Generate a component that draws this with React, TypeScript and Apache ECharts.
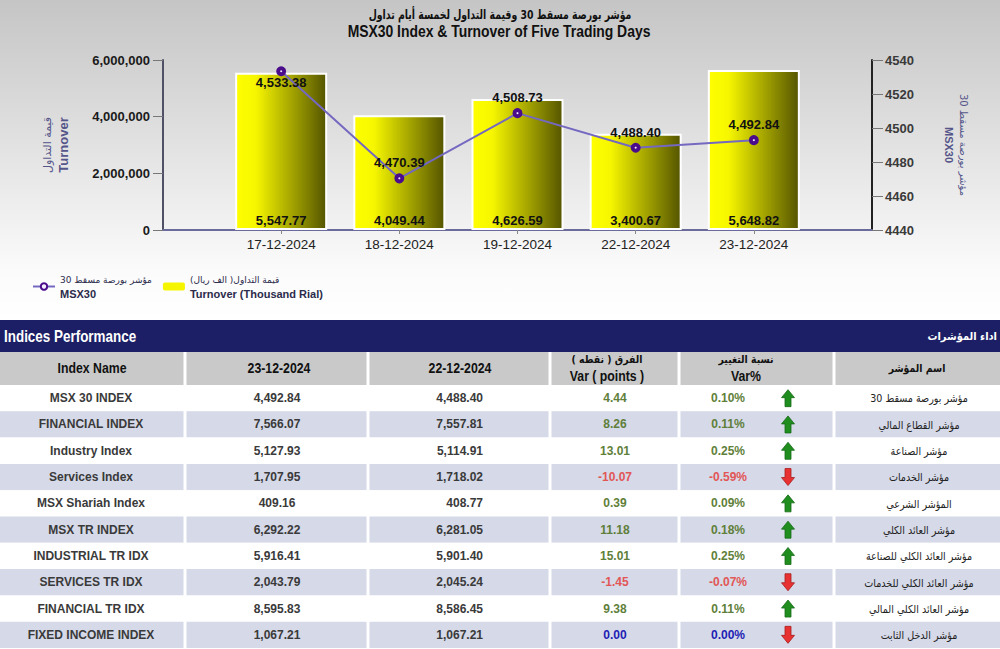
import React, { useEffect, useRef } from 'react';
import * as echarts from 'echarts';

// ---------- Chart data ----------
const titleAr = 'مؤشر بورصة مسقط 30 وقيمة التداول لخمسة أيام تداول';
const titleEn = 'MSX30 Index & Turnover of Five Trading Days';
const dates = ['17-12-2024', '18-12-2024', '19-12-2024', '22-12-2024', '23-12-2024'];
const turnover = [5547.77, 4049.44, 4626.59, 3400.67, 5648.82]; // shown as labels, axis in x1000
const msx30 = [4533.38, 4470.39, 4508.73, 4488.4, 4492.84];
const turnoverNameAr = 'قيمة التداول( الف ريال)';
const turnoverNameEn = 'Turnover (Thousand Rial)';
const msxNameAr = 'مؤشر بورصة مسقط 30';
const msxNameEn = 'MSX30';
const leftAxisNameAr = 'قيمة التداول';
const leftAxisNameEn = 'Turnover';

// ---------- Table data ----------
const bandTitleEn = 'Indices Performance';
const bandTitleAr = 'اداء المؤشرات';
const tableDates = ['23-12-2024', '22-12-2024'];
const headerIndexName = 'Index Name';
const headerVarPtsAr = 'الفرق ( نقطه )';
const headerVarPtsEn = 'Var ( points )';
const headerVarPctAr = 'نسبة التغيير';
const headerVarPctEn = 'Var%';
const headerNameAr = 'اسم المؤشر';
const indexNamesEn = [
  'MSX 30 INDEX', 'FINANCIAL INDEX', 'Industry Index', 'Services Index', 'MSX Shariah Index',
  'MSX TR INDEX', 'INDUSTRIAL TR IDX', 'SERVICES TR IDX', 'FINANCIAL TR IDX', 'FIXED INCOME INDEX',
];
const indexNamesAr = [
  'مؤشر بورصة مسقط 30', 'مؤشر القطاع المالي', 'مؤشر الصناعة', 'مؤشر الخدمات', 'المؤشر الشرعي',
  'مؤشر العائد الكلي', 'مؤشر العائد الكلي للصناعة', 'مؤشر العائد الكلي للخدمات', 'مؤشر العائد الكلي المالي', 'مؤشر الدخل الثابت',
];
const closeCurrent = [4492.84, 7566.07, 5127.93, 1707.95, 409.16, 6292.22, 5916.41, 2043.79, 8595.83, 1067.21];
const closePrevious = [4488.4, 7557.81, 5114.91, 1718.02, 408.77, 6281.05, 5901.4, 2045.24, 8586.45, 1067.21];
const varPoints = [4.44, 8.26, 13.01, -10.07, 0.39, 11.18, 15.01, -1.45, 9.38, 0.0];
const varPercent = [0.1, 0.11, 0.25, -0.59, 0.09, 0.18, 0.25, -0.07, 0.11, 0.0];

const fmt2 = (v: number) => v.toLocaleString('en-US', { minimumFractionDigits: 2, maximumFractionDigits: 2 });
const rtl = (s: string) => '\u200F' + s + '\u200F';

const ARIAL = 'Liberation Sans';
const ARABIC = 'DejaVu Sans';

function txt(x: number, y: number, text: string, opts: any = {}) {
  const align = opts.align || 'center';
  return {
    type: 'text',
    x,
    y,
    scaleX: opts.scaleX || 1,
    silent: true,
    z: 5,
    style: {
      text,
      fill: opts.fill || '#333',
      fontSize: opts.size || 12,
      fontWeight: opts.weight || 'bold',
      fontFamily: opts.family || ARIAL,
      textAlign: align,
      align,
      textVerticalAlign: 'middle',
      verticalAlign: 'middle',
    },
  };
}

function arrow(cx: number, cy: number, up: boolean) {
  const s = up ? 1 : -1;
  const pts = [[0, -8.5], [6.5, -0.5], [3, -0.5], [3, 8.5], [-3, 8.5], [-3, -0.5], [-6.5, -0.5]].map(
    ([x, y]) => [cx + x, cy + s * y]
  );
  return {
    type: 'polygon',
    silent: true,
    z: 5,
    shape: { points: pts },
    style: up
      ? { fill: '#1f8e1f', stroke: '#166a16', lineWidth: 0.8 }
      : { fill: '#e83232', stroke: '#a81c1c', lineWidth: 0.8 },
  };
}

function buildGraphics() {
  const g: any[] = [];
  // chart background gradient
  g.push({
    type: 'rect',
    silent: true,
    z: -10,
    shape: { x: 0, y: 0, width: 1000, height: 320 },
    style: {
      fill: {
        type: 'linear', x: 0, y: 0, x2: 0, y2: 1,
        colorStops: [
          { offset: 0, color: '#c5c5c5' },
          { offset: 0.85, color: '#fbfbfb' },
          { offset: 1, color: '#ffffff' },
        ],
      },
    },
  });
  // titles
  g.push(txt(500, 14, rtl(titleAr), { fill: '#111', size: 13, family: ARABIC, scaleX: 0.72 }));
  g.push(txt(499, 31, titleEn, { fill: '#111', size: 16, scaleX: 0.87 }));

  // navy band
  const bandTop = 320, bandH = 32;
  g.push({ type: 'rect', silent: true, z: 1, shape: { x: 0, y: bandTop, width: 1000, height: bandH }, style: { fill: '#1c1f66' } });
  g.push(txt(4, bandTop + bandH / 2 + 1, bandTitleEn, { align: 'left', fill: '#ffffff', size: 16, scaleX: 0.84 }));
  g.push(txt(997, bandTop + bandH / 2, rtl(bandTitleAr), { align: 'right', fill: '#ffffff', size: 11, family: ARABIC, scaleX: 0.9 }));

  // header row
  const headTop = 352, headH = 33;
  g.push({ type: 'rect', silent: true, z: 1, shape: { x: 0, y: headTop, width: 1000, height: headH }, style: { fill: '#c9c9c9' } });

  const rowTop = 385, rowH = 26.3;
  indexNamesEn.forEach((_, i) => {
    g.push({
      type: 'rect', silent: true, z: 1,
      shape: { x: 0, y: rowTop + i * rowH, width: 1000, height: rowH },
      style: { fill: i % 2 === 1 ? '#d5d9e8' : '#ffffff' },
    });
  });
  // column separators
  [185, 368, 550, 679, 834].forEach((x) => {
    g.push({ type: 'rect', silent: true, z: 2, shape: { x: x - 1.5, y: headTop, width: 3, height: 649 - headTop }, style: { fill: '#ffffff' } });
  });

  const hc = headTop + headH / 2;
  const hs = { fill: '#111', size: 15, scaleX: 0.82 };
  g.push(txt(92, hc, headerIndexName, hs));
  g.push(txt(279, hc, tableDates[0], hs));
  g.push(txt(460, hc, tableDates[1], hs));
  g.push(txt(607, hc - 9, rtl(headerVarPtsAr), { fill: '#111', size: 11, family: ARABIC, scaleX: 0.85 }));
  g.push(txt(607, hc + 8, headerVarPtsEn, hs));
  g.push(txt(746, hc - 9, rtl(headerVarPctAr), { fill: '#111', size: 11, family: ARABIC, scaleX: 0.85 }));
  g.push(txt(746, hc + 8, headerVarPctEn, hs));
  g.push(txt(917, hc, rtl(headerNameAr), { fill: '#111', size: 11, family: ARABIC, scaleX: 0.85 }));

  indexNamesEn.forEach((name, i) => {
    const cy = rowTop + i * rowH + rowH / 2;
    const v = varPoints[i];
    const color = v > 0 ? '#5f7f3a' : v < 0 ? '#e25656' : '#1e1eb4';
    g.push(txt(91, cy, name, { fill: '#3a3a3a' }));
    g.push(txt(277, cy, fmt2(closeCurrent[i]), { fill: '#3a3a3a' }));
    g.push(txt(483, cy, fmt2(closePrevious[i]), { fill: '#3a3a3a', align: 'right' }));
    g.push(txt(615, cy, v.toFixed(2), { fill: color }));
    g.push(txt(728, cy, varPercent[i].toFixed(2) + '%', { fill: color }));
    g.push(arrow(788, cy, v > 0));
    g.push(txt(919, cy, rtl(indexNamesAr[i]), { fill: '#222', size: 11, family: ARABIC, weight: 'normal', scaleX: 0.87 }));
  });
  return g;
}

export default function App() {
  const ref = useRef<HTMLDivElement>(null);
  useEffect(() => {
    if (!ref.current) return;
    const chart = echarts.init(ref.current, null, { renderer: 'svg' });
    const labelStyle = { color: '#111', fontSize: 13, fontWeight: 'bold', fontFamily: ARIAL };
    const option: any = {
      animation: false,
      tooltip: { show: false },
      legend: {
        left: 32,
        top: 275,
        padding: 0,
        itemWidth: 22,
        itemHeight: 8,
        itemGap: 11,
        data: [
          { name: msxNameEn },
          { name: turnoverNameEn, itemStyle: { color: '#f5f500', borderWidth: 0 } },
        ],
        formatter: (name: string) =>
          name === msxNameEn
            ? `{a|${rtl(msxNameAr)}}\n{b|${msxNameEn}}`
            : `{a|${rtl(turnoverNameAr)}}\n{b|${turnoverNameEn}}`,
        textStyle: {
          color: '#2b2b4b',
          rich: {
            a: { fontFamily: ARABIC, fontSize: 9, color: '#2b2b4b', lineHeight: 14 },
            b: { fontFamily: ARIAL, fontSize: 11, fontWeight: 'bold', color: '#2b2b4b', lineHeight: 14 },
          },
        },
      },
      grid: { left: 163, right: 128, top: 60, bottom: 419 },
      xAxis: {
        type: 'value',
        min: -1,
        max: 5,
        splitLine: { show: false },
        axisPointer: { show: false },
        axisLine: { show: true, onZero: false, lineStyle: { color: '#6b6b9b', width: 2 } },
        axisTick: { show: true, customValues: dates.map((_, i) => i), length: 4, lineStyle: { color: '#888' } },
        axisLabel: {
          customValues: dates.map((_, i) => i),
          formatter: (v: number) => dates[Math.round(v)] ?? '',
          color: '#222',
          fontSize: 13.5,
          fontFamily: ARIAL,
          margin: 7,
        },
      },
      yAxis: [
        {
          type: 'value',
          position: 'left',
          min: 0,
          max: 6000,
          interval: 2000,
          splitLine: { show: false },
          axisLine: { show: true, onZero: false, lineStyle: { color: '#505066', width: 2 } },
          axisTick: { show: true, length: 10, lineStyle: { color: '#777' } },
          axisLabel: {
            formatter: (v: number) => (v * 1000).toLocaleString('en-US'),
            color: '#1a1a1a',
            fontSize: 13,
            fontWeight: 'bold',
            fontFamily: ARIAL,
            margin: 13,
          },
          name: `{a|${rtl(leftAxisNameAr)}}\n{b|${leftAxisNameEn}}`,
          nameLocation: 'middle',
          nameRotate: 90,
          nameGap: 92,
          nameTextStyle: {
            rich: {
              a: { fontFamily: ARABIC, fontSize: 11, color: '#55558a', lineHeight: 16 },
              b: { fontFamily: ARIAL, fontSize: 13, fontWeight: 'bold', color: '#55558a', lineHeight: 16 },
            },
          },
        },
        {
          type: 'value',
          position: 'right',
          min: 4440,
          max: 4540,
          interval: 20,
          splitLine: { show: false },
          axisLine: { show: true, onZero: false, lineStyle: { color: '#222', width: 2 } },
          axisTick: { show: true, length: 11, lineStyle: { color: '#777' } },
          axisLabel: {
            formatter: (v: number) => String(v),
            color: '#3a3a3a',
            fontSize: 13,
            fontWeight: 'bold',
            fontFamily: ARIAL,
            margin: 13,
          },
          name: `{a|${rtl(msxNameAr)}}\n{b|${msxNameEn}}`,
          nameLocation: 'middle',
          nameRotate: -90,
          nameGap: 70,
          nameTextStyle: {
            rich: {
              a: { fontFamily: ARABIC, fontSize: 10, color: '#55558a', lineHeight: 14 },
              b: { fontFamily: ARIAL, fontSize: 11, fontWeight: 'bold', color: '#55558a', lineHeight: 14 },
            },
          },
        },
      ],
      series: [
        {
          type: 'bar',
          name: turnoverNameEn,
          data: turnover.map((v, i) => [i, v]),
          barWidth: 92,
          itemStyle: {
            color: new echarts.graphic.LinearGradient(0, 0, 1, 0, [
              { offset: 0, color: '#ffff00' },
              { offset: 0.22, color: '#f6f600' },
              { offset: 1, color: '#555500' },
            ]),
            borderColor: '#ffffff',
            borderWidth: 2,
          },
          label: {
            show: true,
            position: 'insideBottom',
            distance: 3,
            formatter: (p: any) => fmt2(p.value[1]),
            ...labelStyle,
          },
        },
        {
          type: 'line',
          name: msxNameEn,
          yAxisIndex: 1,
          z: 5,
          data: msx30.map((v, i) => ({
            value: [i, v],
            label: i === 0 ? { position: 'bottom', distance: 0 } : { position: 'top', distance: 4 },
          })),
          symbol: 'circle',
          symbolSize: 6,
          lineStyle: { color: '#7468c0', width: 2 },
          itemStyle: { color: '#f4eeff', borderColor: '#4b0c8c', borderWidth: 4 },
          label: {
            show: true,
            distance: 4,
            formatter: (p: any) => fmt2(p.value[1]),
            ...labelStyle,
          },
        },
      ],
      graphic: buildGraphics(),
    };
    chart.setOption(option);
    return () => chart.dispose();
  }, []);
  return <div ref={ref} style={{ position: 'absolute', left: 0, top: 0, width: 1000, height: 649 }} />;
}
